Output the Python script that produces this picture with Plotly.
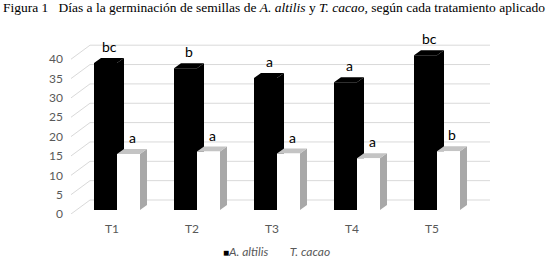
import plotly.graph_objects as go

# ---------------- data ----------------
categories = ["T1", "T2", "T3", "T4", "T5"]
altilis = [38.0, 36.6, 34.1, 33.0, 40.0]
cacao = [14.5, 15.1, 14.6, 13.4, 15.2]
altilis_letters = ["bc", "b", "a", "a", "bc"]
cacao_letters = ["a", "a", "a", "a", "b"]
y_ticks = [0, 5, 10, 15, 20, 25, 30, 35, 40]

# ---------------- geometry (pixels -> axis units) ----------------
W, H = 551, 271
ML, MB = 70, 57
PLOT_H = H - MB
PX_PER_CAT = 80.0
PX_PER_UNIT = 3.87
FIRST_CAT_PX = 112.0
BASE_PX = 210.0


def ux(p):
    return p / PX_PER_CAT


def uy(p):
    return p / PX_PER_UNIT


x_range = [ux(ML - FIRST_CAT_PX), ux(W - FIRST_CAT_PX)]
y_range = [uy(BASE_PX - PLOT_H), uy(BASE_PX)]

bar_shift = ux(5)
bar_w = ux(23)
ddx, ddy = ux(7), uy(5)
wall_front_x = ux(71 - FIRST_CAT_PX)
wall_back_x = ux(90 - FIRST_CAT_PX)
wall_right_x = ux(490 - FIRST_CAT_PX)
wall_front_dy = uy(-4)
wall_back_dy = uy(10)


def paper_x(px):
    return (px - ML) / (W - ML)


def paper_y(py):
    return (PLOT_H - py) / PLOT_H


fig = go.Figure()

# ---------------- walls (gridlines) ----------------
gx, gy = [], []
for v in y_ticks:
    gx += [wall_front_x, wall_back_x, wall_right_x, None]
    gy += [v + wall_front_dy, v + wall_back_dy, v + wall_back_dy, None]
fig.add_trace(go.Scatter(x=gx, y=gy, mode="lines",
                         line=dict(color="#d9d9d9", width=1),
                         hoverinfo="skip", showlegend=False))


def faces(values, left_offset):
    front_x, front_y, top_x, top_y, side_x, side_y = [], [], [], [], [], []
    for i, v in enumerate(values):
        xl = i + bar_shift + left_offset
        xr = xl + bar_w
        front_x += [xl, xr, xr, xl, xl, None]
        front_y += [0, 0, v, v, 0, None]
        top_x += [xl, xl + ddx, xr + ddx, xr, xl, None]
        top_y += [v, v + ddy, v + ddy, v, v, None]
        side_x += [xr, xr, xr + ddx, xr + ddx, xr, None]
        side_y += [0, v, v + ddy, ddy, 0, None]
    return (front_x, front_y), (top_x, top_y), (side_x, side_y)


def poly(xy, color, name):
    return go.Scatter(x=xy[0], y=xy[1], mode="lines", fill="toself",
                      fillcolor=color, line=dict(color=color, width=0),
                      hoverinfo="skip", showlegend=False, name=name)


# A. altilis (black)
bf, bt, bs = faces(altilis, -bar_w)
fig.add_trace(poly(bs, "#000000", "A. altilis"))
fig.add_trace(poly(bf, "#000000", "A. altilis"))
fig.add_trace(poly(bt, "#000000", "A. altilis"))

# T. cacao (white with grey sides)
wf, wt, ws = faces(cacao, 0)
fig.add_trace(poly(ws, "#a8a8a8", "T. cacao"))
fig.add_trace(poly(wt, "#c4c4c4", "T. cacao"))
fig.add_trace(poly(wf, "#ffffff", "T. cacao"))

# ---------------- letters above bars ----------------
annotations = []
for i, (v, t) in enumerate(zip(altilis, altilis_letters)):
    annotations.append(dict(x=i + bar_shift - bar_w / 2 + ddx / 2, y=v + ddy,
                            text=t, showarrow=False, yanchor="bottom",
                            xanchor="center", yshift=1,
                            font=dict(family="Lato", size=14, color="#000000")))
for i, (v, t) in enumerate(zip(cacao, cacao_letters)):
    annotations.append(dict(x=i + bar_shift + bar_w / 2 + ddx / 2, y=v + ddy,
                            text=t, showarrow=False, yanchor="bottom",
                            xanchor="center", yshift=1,
                            font=dict(family="Lato", size=14, color="#000000")))

# ---------------- legend ----------------
annotations.append(dict(
    xref="paper", yref="paper", x=paper_x(276), y=paper_y(252),
    xanchor="center", yanchor="middle", showarrow=False,
    text=("<span style='color:#000000;font-size:10px'>■</span>"
          "<i>A. altilis</i>\u00a0\u00a0\u00a0\u00a0\u00a0"
          "<span style='color:#ffffff;font-size:10px'>■</span><i>T. cacao</i>"),
    font=dict(family="Lato", size=12, color="#595959")))

fig.update_layout(
    width=W, height=H,
    margin=dict(l=ML, r=0, t=0, b=MB, pad=0),
    paper_bgcolor="#ffffff", plot_bgcolor="#ffffff",
    showlegend=False,
    title=dict(
        text=("Figura 1\u00a0\u00a0\u00a0Días a la germinación de semillas de "
              "<i>A. altilis</i> y <i>T. cacao</i>, según cada tratamiento aplicado"),
        x=3 / W, xanchor="left", xref="container",
        y=1 - 7 / H, yanchor="middle", yref="container",
        font=dict(family="Liberation Serif", size=13.5, color="#000000")),
    xaxis=dict(range=x_range, tickvals=list(range(len(categories))),
               ticktext=categories, showgrid=False, zeroline=False,
               showline=False, ticks="", ticklabelstandoff=6,
               tickfont=dict(family="Lato", size=12, color="#595959"),
               fixedrange=True),
    yaxis=dict(range=y_range, tickvals=y_ticks, showgrid=False,
               zeroline=False, showline=False, ticks="",
               ticklabelshift=4, ticklabelstandoff=6,
               tickfont=dict(family="Lato", size=12, color="#595959"),
               fixedrange=True),
    annotations=annotations,
)

fig.write_html("out.html",
               config={"displayModeBar": False, "staticPlot": True},
               post_script="document.body.style.margin='0';document.body.style.overflow='hidden';")
